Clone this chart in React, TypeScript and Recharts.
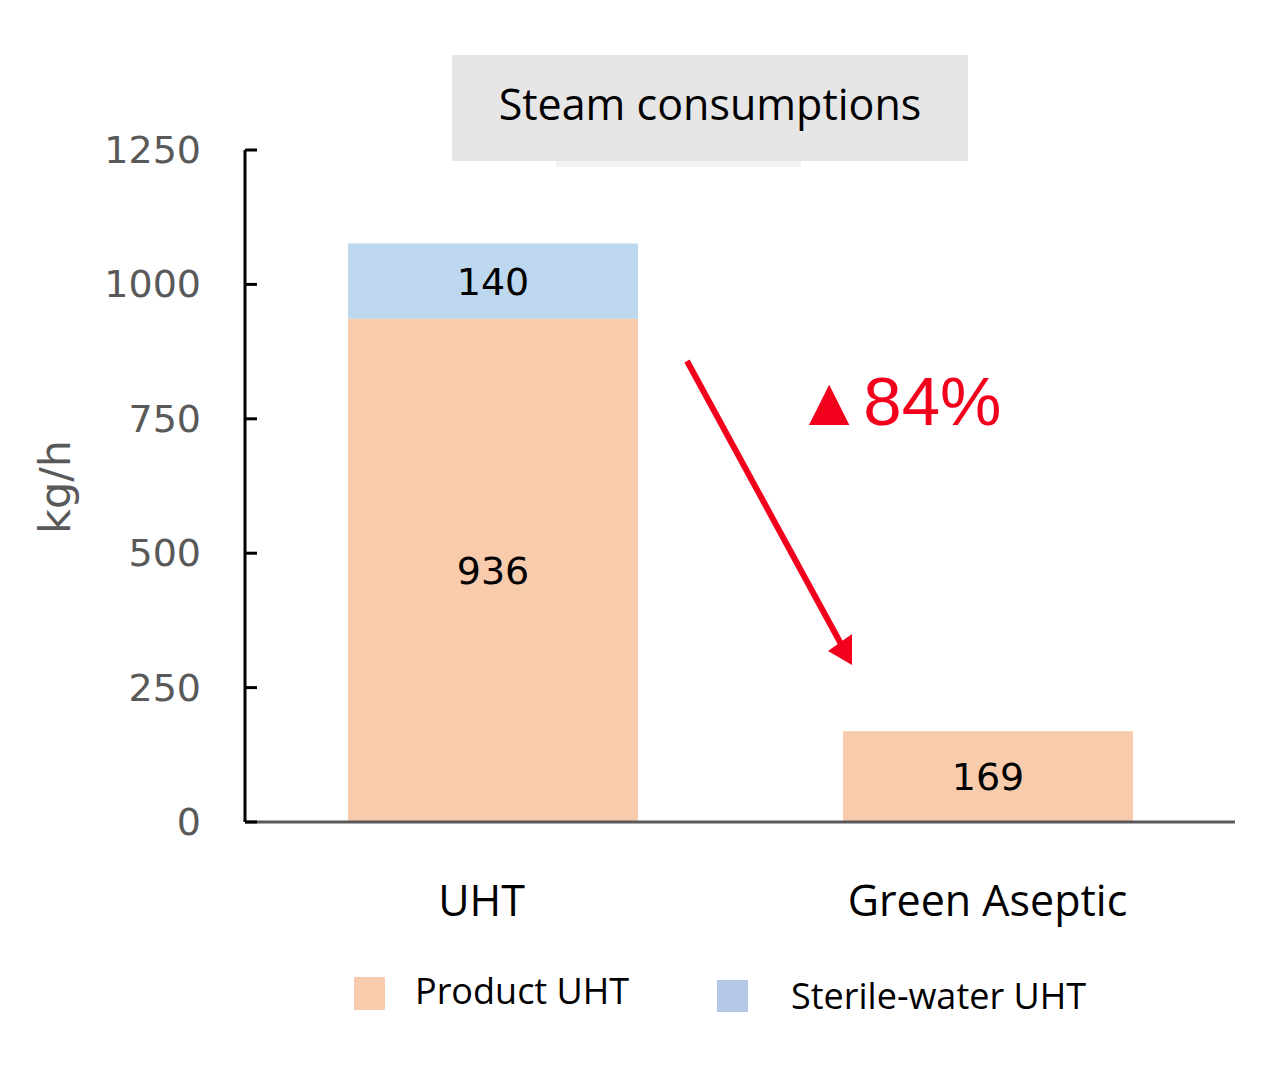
import React from "react";
import { BarChart, Bar, XAxis, YAxis, Legend, LabelList } from "recharts";

const categories = ["UHT", "Green Aseptic"];
const productUHT = [936, 169];
const sterileWaterUHT: Array<number | null> = [140, null];
const yTicks = [0, 250, 500, 750, 1000, 1250];

const legendItems = [
  { label: "Product UHT", color: "#F8CBAD" },
  { label: "Sterile-water UHT", color: "#B4C7E7" },
];

const data = categories.map((name, i) => ({
  name,
  product: productUHT[i],
  sterile: sterileWaterUHT[i],
}));

const W = 1269;
const H = 1069;

const YTick = (props: any) => {
  const { x, y, payload } = props;
  return (
    <g>
      <line x1={x} x2={x + 12} y1={y} y2={y} stroke="#000" strokeWidth={3} />
      <text
        x={x - 44}
        y={y}
        dy={13}
        textAnchor="end"
        fill="#595959"
        fontSize={38}
        fontFamily="DejaVu Sans"
      >
        {payload.value}
      </text>
    </g>
  );
};

const XTick = (props: any) => {
  const { x, y, payload, index } = props;
  return (
    <text
      x={x}
      y={y}
      dx={index === 0 ? -11 : 0}
      dy={94}
      textAnchor="middle"
      fill="#000"
      fontSize={43}
      fontFamily="Open Sans"
    >
      {payload.value}
    </text>
  );
};

// legend drawn as its own small svg, placed under the axis
const LegendContent = () => (
  <svg width={W} height={90} style={{ overflow: "visible", display: "block" }}>
    <rect x={346} y={19} width={31} height={33} fill={legendItems[0].color} />
    <text x={407} y={46} fontSize={36} fontFamily="Open Sans" fill="#000">
      {legendItems[0].label}
    </text>
    <rect x={709} y={22} width={31} height={32} fill={legendItems[1].color} />
    <text x={783} y={51} fontSize={36} fontFamily="Open Sans" fill="#000">
      {legendItems[1].label}
    </text>
  </svg>
);

const App = () => {
  return (
    <div style={{ position: "relative", width: W, height: H }}>
      <BarChart
        width={W}
        height={H}
        data={data}
        margin={{ top: 142, right: 42, left: 0, bottom: 155 }}
      >
        <XAxis
          dataKey="name"
          type="category"
          axisLine={{ stroke: "#595959", strokeWidth: 3 }}
          tickLine={false}
          tickSize={0}
          tickMargin={0}
          height={100}
          tick={<XTick />}
        />
        <YAxis
          type="number"
          domain={[0, 1250]}
          ticks={yTicks}
          width={237}
          axisLine={{ stroke: "#000", strokeWidth: 3 }}
          tickLine={false}
          tickSize={0}
          tickMargin={0}
          tick={<YTick />}
          interval={0}
        />
        <Legend
          layout="horizontal"
          verticalAlign="middle"
          align="center"
          wrapperStyle={{ top: 950, left: 0, width: W, height: 90 }}
          content={<LegendContent />}
        />
        <Bar
          dataKey="product"
          stackId="a"
          fill="#F8CBAD"
          barSize={290}
          isAnimationActive={false}
        >
          <LabelList
            dataKey="product"
            position="center"
            fill="#000"
            fontSize={38}
            fontFamily="DejaVu Sans"
          />
        </Bar>
        <Bar
          dataKey="sterile"
          stackId="a"
          fill="#BDD7EE"
          barSize={290}
          isAnimationActive={false}
        >
          <LabelList
            dataKey="sterile"
            position="center"
            fill="#000"
            fontSize={38}
            fontFamily="DejaVu Sans"
          />
        </Bar>
      </BarChart>
      <svg
        width={1285}
        height={1085}
        style={{ position: "absolute", left: -8, top: -8, pointerEvents: "none" }}
      >
        <rect x={556} y={161} width={245} height={6} fill="#f3f3f3" />
        <rect x={452} y={55} width={516} height={106} fill="#E7E6E6" />
        <text
          x={710}
          y={120}
          textAnchor="middle"
          fontSize={43}
          fontFamily="Open Sans"
          fill="#000"
        >
          Steam consumptions
        </text>
        <text
          x={55}
          y={487}
          transform="rotate(-90 55 487)"
          textAnchor="middle"
          dominantBaseline="central"
          fontSize={43}
          fontFamily="DejaVu Sans"
          fill="#595959"
        >
          kg/h
        </text>
        <line x1={687} y1={361} x2={841} y2={644} stroke="#F2001C" strokeWidth={6} />
        <polygon points="852,665 828,651 852,634" fill="#F2001C" />
        <text
          x={795}
          y={425}
          fontSize={69}
          fontFamily="Liberation Sans, DejaVu Sans"
          fill="#F2001C"
        >
          ▲84%
        </text>
      </svg>
    </div>
  );
};

export default App;
